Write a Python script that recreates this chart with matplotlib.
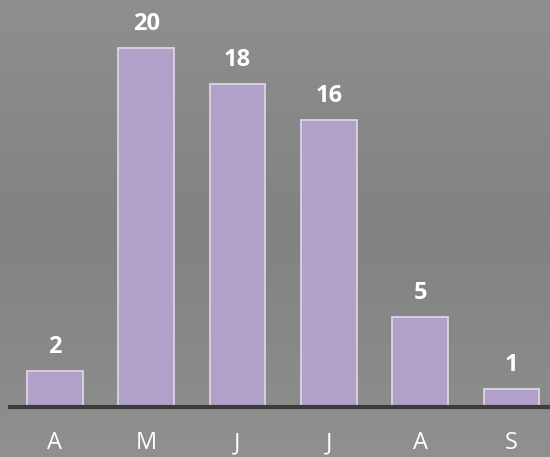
import numpy as np
import matplotlib
matplotlib.use("Agg")
import matplotlib.pyplot as plt
from matplotlib.colors import LinearSegmentedColormap

months = ['A', 'M', 'J', 'J', 'A', 'S']
counts = [2, 20, 18, 16, 5, 1]

fig = plt.figure(figsize=(5.5, 4.57), dpi=100)

# gray backdrop, slightly darker in the middle
bg = fig.add_axes([0, 0, 1, 1], zorder=-1)
bg_cmap = LinearSegmentedColormap.from_list(
    'bg', ['#8f8f8f', '#888888', '#828282', '#888888', '#909090'])
bg.imshow(np.linspace(0, 1, 256).reshape(-1, 1), aspect='auto', cmap=bg_cmap,
          extent=[0, 1, 0, 1])
bg.axis('off')

ax = fig.add_axes([10 / 550, 50 / 457, 1 - 10 / 550, 1 - 50 / 457])
ax.patch.set_alpha(0)

x = np.arange(len(months))
ax.bar(x, counts, width=0.61, color='#b1a0c7', edgecolor='#dcd3e6',
       linewidth=1.3, zorder=2)

for xi, v in zip(x, counts):
    ax.annotate(str(v), (xi, v), xytext=(0, 9), textcoords='offset points',
                ha='center', va='bottom', color='white', fontsize=17,
                fontweight='bold', family='Open Sans')

ax.set_xlim(-0.49, 5.42)
ax.set_ylim(0, 22.7)
ax.axhline(0, color='#3c3c3c', linewidth=3, zorder=3, clip_on=False)

for s in ax.spines.values():
    s.set_visible(False)
ax.set_yticks([])
ax.set_xticks(x)
ax.set_xticklabels(months, color='white', fontsize=17, family='Open Sans')
ax.tick_params(axis='x', length=0, pad=17.5)

fig.savefig('out.png', dpi=100)
